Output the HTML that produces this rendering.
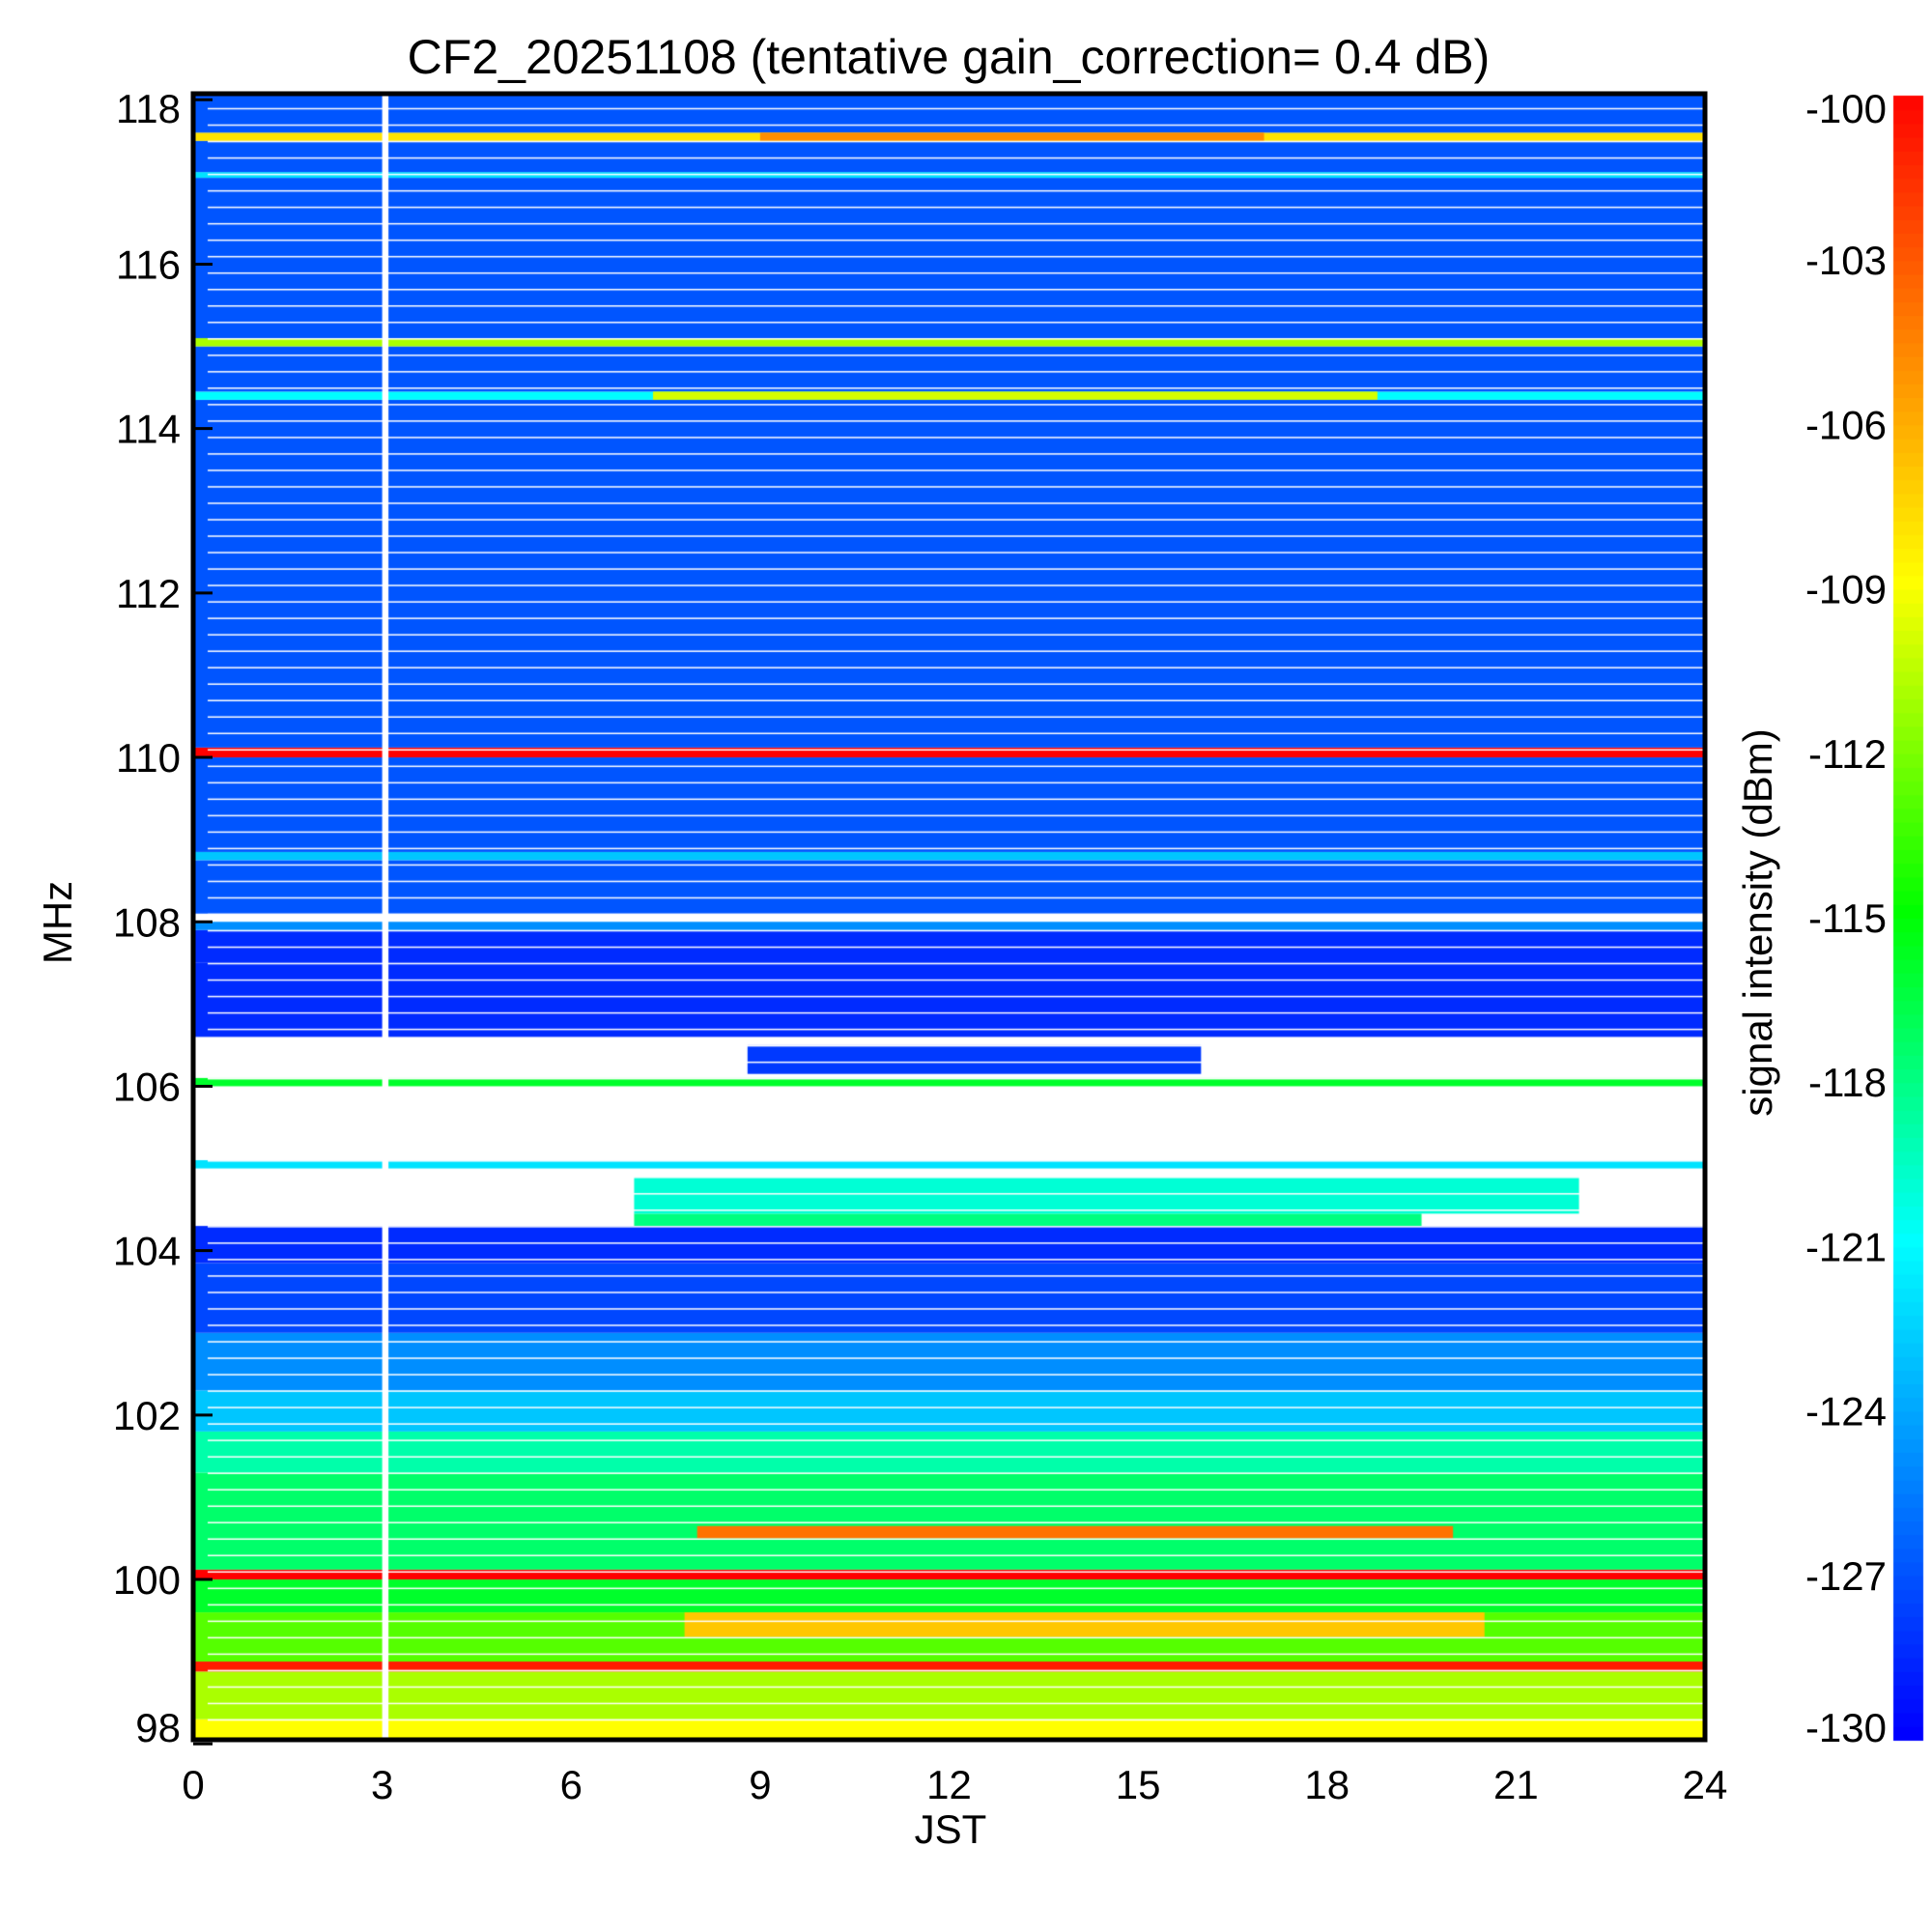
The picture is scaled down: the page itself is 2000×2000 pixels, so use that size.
<!DOCTYPE html>
<html><head><meta charset="utf-8">
<style>
html,body{margin:0;padding:0;background:#fff;}
#wrap{position:relative;width:2000px;height:2000px;font-family:"Liberation Sans",sans-serif;}
canvas{position:absolute;left:0;top:0;}
svg{position:absolute;left:0;top:0;}
</style></head>
<body>
<div id="wrap">
<canvas id="hm" width="2000" height="2000"></canvas>
<svg id="ax" width="2000" height="2000"></svg>
</div>
<script>
// ---- data ----
const bandLo   = [98.05,98.3,98.88,99.0,99.6,100.0,100.12,101.3,101.8,102.3,103.0,103.85,104.3,105.0,105.1,106.0,106.1,106.6,107.5,107.9,108.0,108.1,108.75,108.85,110.0,110.12,114.35,114.45,115.0,115.1,117.05,117.12,117.5,117.6];
const bandHi   = [98.3,98.88,99.0,99.6,100.0,100.12,101.3,101.8,102.3,103.0,103.85,104.3,105.0,105.1,106.0,106.1,106.6,107.5,107.9,108.0,108.1,108.75,108.85,110.0,110.12,114.35,114.45,115.0,115.1,117.05,117.12,117.5,117.6,118.05];
const bandLevel= [-109,-111,-101,-113,-116,-100,-117.5,-119,-123,-125,-127.5,-128.5,null,-122,null,-116,null,-128.5,-128.5,-125,null,-127,-123,-127,-100,-127,-121,-127,-111,-127,-122,-127,-108,-127];
// time-limited events: freq lo, freq hi, t0, t1, level
const evF0 = [114.35,117.5,104.3,104.45,106.15,99.3,100.5,98.9];
const evF1 = [114.45,117.6,104.45,104.9,106.5,99.6,100.65,99.0];
const evT0 = [7.3,9,7,7,8.8,7.8,8,0];
const evT1 = [18.8,17,19.5,22,16,20.5,20,24];
const evLvl= [-110,-105,-118,-120,-128,-107,-104,-101];
// data gaps (hours)
const gapT0 = [3.0];
const gapT1 = [3.1];
const yTicks = [98,100,102,104,106,108,110,112,114,116,118];
const xTicks = [0,3,6,9,12,15,18,21,24];
const cbTicks = [-100,-103,-106,-109,-112,-115,-118,-121,-124,-127,-130];

// ---- scales ----
const L=200,R=1765,T=99,B=1801;
const fTop=118.05,fBot=98.05;
const X=t=>L+(t/24)*(R-L);
const Y=f=>T+(fTop-f)/(fTop-fBot)*(B-T);
const stops=[[0,[0,0,255]],[0.3,[0,255,255]],[0.5,[0,255,0]],[0.7,[255,255,0]],[0.85,[255,128,0]],[1,[255,0,0]]];
function cmap(v){
  let u=(v+130)/30; u=Math.max(0,Math.min(1,u));
  for(let i=1;i<stops.length;i++){ if(u<=stops[i][0]){const a=stops[i-1],b=stops[i];const k=(u-a[0])/(b[0]-a[0]);
    return 'rgb('+a[1].map((c,j)=>Math.round(c+(b[1][j]-c)*k)).join(',')+')';}}
  return 'rgb(255,0,0)';
}
const c=document.getElementById('hm').getContext('2d');
c.fillStyle='#fff';c.fillRect(0,0,2000,2000);
for(let i=0;i<bandLo.length;i++){
  if(bandLevel[i]===null) continue;
  c.fillStyle=cmap(bandLevel[i]);
  const y0=Y(bandHi[i]),y1=Y(bandLo[i]);
  c.fillRect(L,y0,R-L,y1-y0);
}
for(let i=0;i<evF0.length;i++){
  c.fillStyle=cmap(evLvl[i]);
  const y0=Y(evF1[i]),y1=Y(evF0[i]);
  c.fillRect(X(evT0[i]),y0,X(evT1[i])-X(evT0[i]),y1-y0);
}
c.fillStyle='#fff';
for(let f=98.3;f<118;f+=0.2){ c.fillRect(L+15,Y(f),R-L-15,1.5); }
for(let i=0;i<gapT0.length;i++){ c.fillRect(X(gapT0[i]),T,X(gapT1[i])-X(gapT0[i]),B-T); }
// colorbar
for(let v=-130;v<-100;v+=0.25){ c.fillStyle=cmap(v); const y0=T+(-100-(v+0.25))/30*(B-T); c.fillRect(1960,y0,31,(B-T)/120+1); }

// ---- axes ----
const svg=document.getElementById('ax');const NS='http://www.w3.org/2000/svg';
function el(tag,attrs,txt){const e=document.createElementNS(NS,tag);for(const k in attrs)e.setAttribute(k,attrs[k]);if(txt!==undefined)e.textContent=txt;svg.appendChild(e);return e;}
let fr=el('rect',{x:L,y:T-2,width:R-L,height:B-T+2,fill:'none',stroke:'#000','stroke-width':5});

let tt=el('text',{x:982,y:76,'font-size':50,'text-anchor':'middle','font-family':'Liberation Sans'},'CF2_20251108 (tentative gain_correction=  0.4 dB)');

yTicks.forEach(f=>{const t=el('text',{x:187,y:Math.min(Math.max(Y(f)+15,T+28),B+2),'font-size':42,'text-anchor':'end'},String(f));
  
  const k=el('line',{x1:L,x2:L+20,y1:Y(f),y2:Y(f),stroke:'#000','stroke-width':3});});
xTicks.forEach(h=>{const t=el('text',{x:X(h),y:1862,'font-size':42,'text-anchor':'middle'},String(h));
  });
cbTicks.forEach(v=>{const y=T+(-100-v)/30*(B-T);const t=el('text',{x:1953,y:Math.min(Math.max(y+15,T+28),B+2),'font-size':42,'text-anchor':'end'},String(v));
  });
let yt=el('text',{x:0,y:0,'font-size':42,'text-anchor':'middle',transform:'translate(74,955) rotate(-90)'},'MHz');

let xt=el('text',{x:984,y:1908,'font-size':42,'text-anchor':'middle'},'JST');

let ct=el('text',{x:0,y:0,'font-size':42,'text-anchor':'middle',transform:'translate(1834,955) rotate(-90)'},'signal intensity (dBm)');

</script>
</body></html>
